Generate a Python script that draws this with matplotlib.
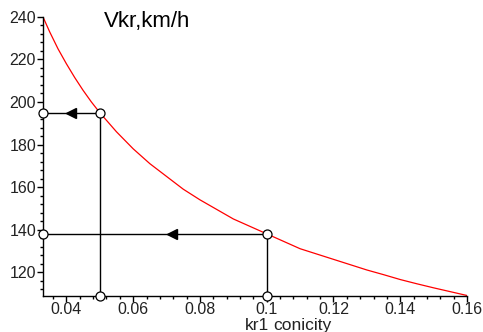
import numpy as np
import matplotlib.pyplot as plt
from matplotlib.ticker import MultipleLocator

plt.rcParams['font.family'] = ['Liberation Sans', 'DejaVu Sans']

conicity = [0.033, 0.035, 0.0375, 0.04, 0.0425, 0.045, 0.0475, 0.05, 0.055,
            0.06, 0.065, 0.07, 0.075, 0.08, 0.085, 0.09, 0.095, 0.10, 0.105,
            0.11, 0.115, 0.12, 0.125, 0.13, 0.135, 0.14, 0.145, 0.15, 0.155,
            0.16]
vkr = [240, 233, 225, 218, 211.5, 205.5, 200, 195, 186,
       178, 171, 165, 159, 154, 149.5, 145, 141.5, 138, 134.5,
       131, 128.5, 126, 123.5, 121, 118.8, 116.5, 114.5, 112.6, 110.8,
       109]

# Two worked read-outs: conicity -> speed
pick_k = [0.05, 0.10]
pick_v = [195, 138]
arrow_k = [0.0415, 0.0717]

x_ticks = [0.04, 0.06, 0.08, 0.10, 0.12, 0.14, 0.16]
x_labels = ['0.04', '0.06', '0.08', '0.1', '0.12', '0.14', '0.16']
y_ticks = [120, 140, 160, 180, 200, 220, 240]

xmin, xmax = 0.033, 0.16
ymin, ymax = 108.7, 240

fig = plt.figure(figsize=(4.83, 3.32), dpi=100)
ax = fig.add_axes([0.089, 0.108, 0.878, 0.841])

ax.plot(conicity, vkr, color='red', linewidth=0.9)

for k, v, ak in zip(pick_k, pick_v, arrow_k):
    ax.plot([xmin, k], [v, v], color='black', linewidth=1)
    ax.plot([k, k], [v, ymin], color='black', linewidth=1)
    ax.plot([ak], [v], marker='<', color='black', markersize=7, clip_on=False)
    ax.plot([xmin, k, k], [v, v, ymin], linestyle='none', marker='o',
            markersize=6.5, markerfacecolor='white', markeredgecolor='black',
            markeredgewidth=0.9, clip_on=False, zorder=5)

ax.set_xlim(xmin, xmax)
ax.set_ylim(ymin, ymax)
ax.set_xticks(x_ticks)
ax.set_xticklabels(x_labels)
ax.set_yticks(y_ticks)
ax.xaxis.set_minor_locator(MultipleLocator(0.004))
ax.yaxis.set_minor_locator(MultipleLocator(4))

for side in ['top', 'right']:
    ax.spines[side].set_visible(False)
for side in ['left', 'bottom']:
    ax.spines[side].set_linewidth(1)
ax.tick_params(which='major', length=4, width=1, labelsize=11.5, pad=1,
               colors='black', labelcolor='#222222')
ax.tick_params(axis='x', which='major', pad=0)
ax.tick_params(which='minor', length=2.5, width=1)

fig.text(0.215, 0.918, 'Vkr,km/h', fontsize=16, ha='left', va='baseline')
fig.text(0.508, 0.006, 'kr1', fontsize=12.5, ha='left', va='baseline',
         color='#222222')
fig.text(0.566, 0.006, 'conicity', fontsize=12.5, ha='left', va='baseline',
         color='#222222')

fig.savefig('out.png', dpi=100)
